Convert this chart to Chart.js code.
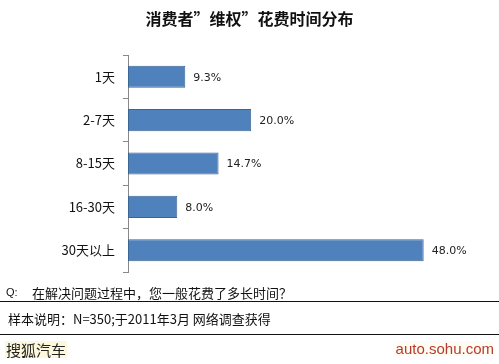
<!DOCTYPE html>
<html><head><meta charset="utf-8">
<script src="https://cdn.jsdelivr.net/npm/chart.js@4/dist/chart.umd.min.js"></script>
<style>
html,body{margin:0;padding:0;background:#fff;}
#wrap{position:relative;width:499px;height:364px;overflow:hidden;font-family:"Noto Sans CJK SC",sans-serif;}
#c{position:absolute;left:0;top:0;}
.t{position:absolute;white-space:nowrap;line-height:1;}
.hl{position:absolute;left:0;width:499px;height:1px;background:#111;}
</style></head>
<body>
<div id="wrap">
<canvas id="c" width="499" height="364"></canvas>
<div class="t" style="left:0;width:499px;text-align:center;top:10px;font-size:16px;font-weight:bold;color:#111;">消费者”维权”花费时间分布</div>
<div class="t" style="left:6px;top:287px;font-size:11px;color:#111;font-family:'Liberation Sans',sans-serif;">Q:</div>
<div class="t" style="left:32px;top:286px;font-size:13px;color:#111;">在解决问题过程中，您一般花费了多长时间？</div>
<div class="hl" style="top:301px;"></div>
<div class="t" style="left:8px;top:312px;font-size:13px;color:#111;">样本说明：N=350;于2011年3月 网络调查获得</div>
<div class="hl" style="top:334px;"></div>
<div class="t" style="left:5px;top:341px;font-size:15px;color:#222;background:#fdf8dc;padding:1px 1px;">搜狐汽车</div>
<div class="t" style="right:5px;top:341px;font-size:15px;color:#b83a2e;font-family:'Liberation Sans',sans-serif;background:#fffdf3;">auto.sohu.com</div>
</div>
<script>
const categories = ["1天", "2-7天", "8-15天", "16-30天", "30天以上"];
const values = [9.3, 20.0, 14.7, 8.0, 48.0];
const valueLabels = ["9.3%", "20.0%", "14.7%", "8.0%", "48.0%"];

const labelPlugin = {
  id: 'barLabels',
  afterDatasetsDraw(chart) {
    const ctx = chart.ctx;
    const meta = chart.getDatasetMeta(0);
    ctx.save();
    ctx.font = '11px "DejaVu Sans", sans-serif';
    ctx.fillStyle = '#222';
    ctx.textAlign = 'left';
    ctx.textBaseline = 'middle';
    meta.data.forEach((bar, i) => {
      ctx.fillText(valueLabels[i], bar.x + 8, bar.y + 1);
    });
    ctx.restore();
  }
};

new Chart(document.getElementById('c'), {
  type: 'bar',
  data: {
    labels: categories,
    datasets: [{
      data: values,
      backgroundColor: '#4f81bd',
      borderColor: '#3b6593',
      borderWidth: 1,
      borderSkipped: false,
      categoryPercentage: 1.0,
      barPercentage: 0.51
    }]
  },
  options: {
    indexAxis: 'y',
    responsive: false,
    animation: false,
    devicePixelRatio: 1,
    layout: { padding: { left: 0, top: 55, bottom: 92, right: 63 } },
    plugins: { legend: { display: false }, tooltip: { enabled: false } },
    scales: {
      x: { display: false, min: 0, max: 50 },
      y: {
        offset: true,
        afterFit(scale) { scale.width = 128; },
        border: { display: true, color: '#888', width: 1 },
        grid: { display: true, drawOnChartArea: false, drawTicks: true, tickLength: 5, color: '#888', offset: true },
        ticks: { color: '#111', padding: 8, font: { family: '"Noto Sans CJK SC", sans-serif', size: 13 } }
      }
    }
  },
  plugins: [labelPlugin]
});
</script>
</body></html>
